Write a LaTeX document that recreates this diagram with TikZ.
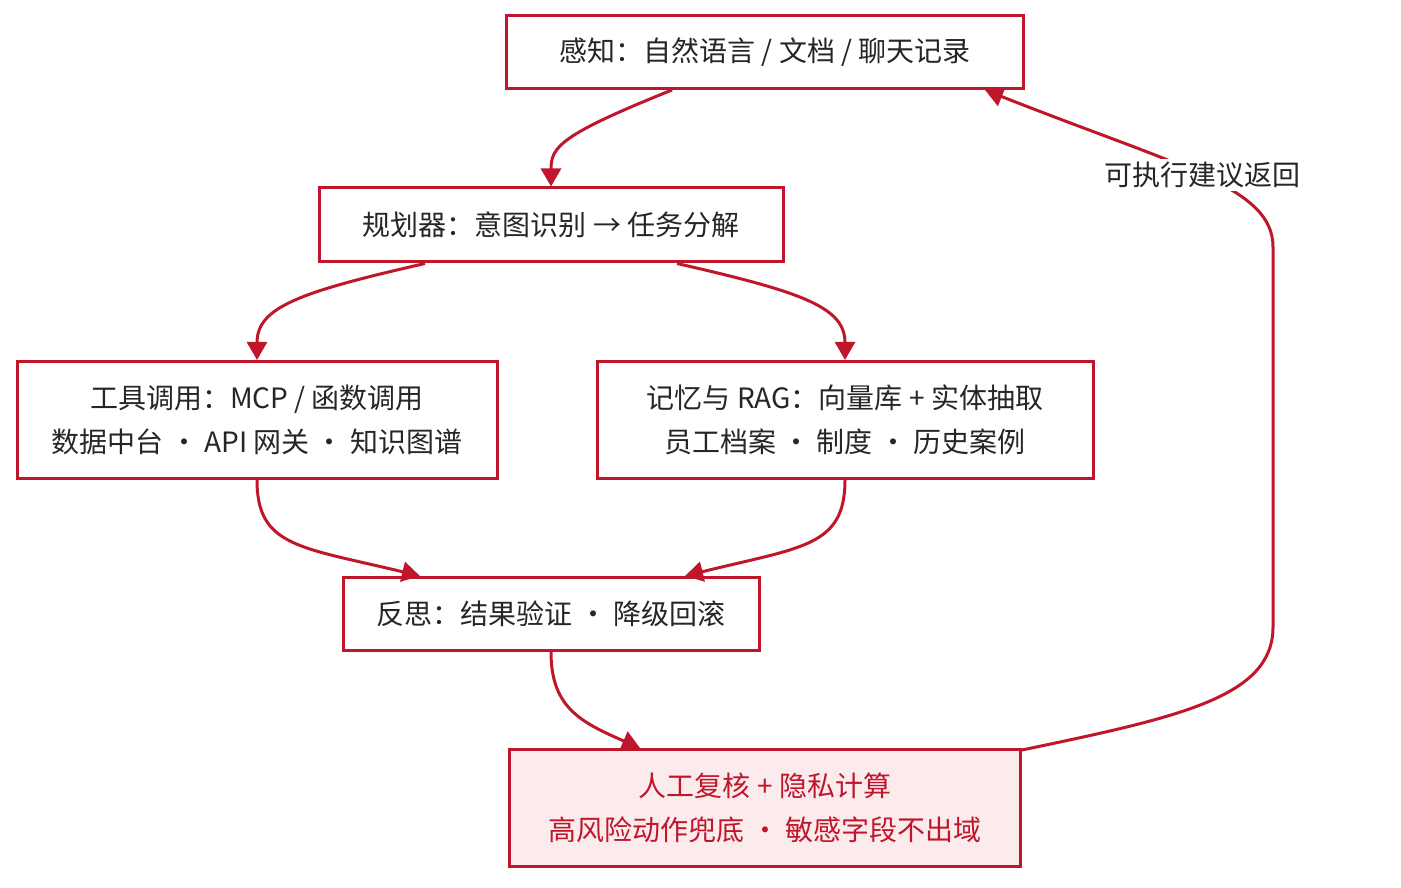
\documentclass[tikz,border=0pt]{standalone}
\usepackage{fontspec}
\setmainfont{Noto Sans CJK SC}
\usetikzlibrary{arrows.meta}
\definecolor{cred}{HTML}{C0162C}
\definecolor{cpink}{HTML}{FCEBEC}
\begin{document}
\begin{tikzpicture}[x=1pt,y=1pt,
  box/.style={draw=cred,line width=3pt,fill=white,align=center,inner sep=0pt,font=\fontsize{28}{44}\selectfont,text=black!85},
  hot/.style={box,fill=cpink,text=cred},
  arr/.style={draw=cred,line width=3pt,-{Triangle[length=18pt,width=20pt]}}]
\useasboundingbox (0,0) rectangle (1401,887);
\node[box,minimum width=517pt,minimum height=73pt] (perc) at (765,835) {感知：自然语言 / 文档 / 聊天记录};
\node[box,minimum width=464pt,minimum height=74pt] (plan) at (551,662) {规划器：意图识别 → 任务分解};
\node[box,minimum width=480pt,minimum height=117pt] (tool) at (257,467) {工具调用：MCP / 函数调用\\数据中台 ・ API 网关 ・ 知识图谱};
\node[box,minimum width=496pt,minimum height=117pt] (mem) at (845,467) {记忆与 RAG：向量库 + 实体抽取\\员工档案 ・ 制度 ・ 历史案例};
\node[box,minimum width=416pt,minimum height=73pt] (refl) at (551,273) {反思：结果验证 ・ 降级回滚};
\node[hot,minimum width=511pt,minimum height=117pt] (hum) at (765,79) {人工复核 + 隐私计算\\高风险动作兜底 ・ 敏感字段不出域};
\draw[arr] ([xshift=-93pt]perc.south) .. controls (560,752) and (551,740) .. (plan.north);
\draw[arr] ([xshift=-126pt]plan.south) .. controls (300,595) and (257,580) .. (tool.north);
\draw[arr] ([xshift=126pt]plan.south) .. controls (802,595) and (845,580) .. (mem.north);
\draw[arr] (tool.south) .. controls (257,340) and (300,340) .. ([xshift=-131pt]refl.north);
\draw[arr] (mem.south) .. controls (845,340) and (802,340) .. ([xshift=134pt]refl.north);
\draw[arr] (refl.south) .. controls (551,180) and (580,165) .. ([xshift=-125pt]hum.north);
\draw[arr] ([yshift=-2pt]hum.north east) .. controls (1180,170) and (1273,190) .. (1273,260) -- (1273,640) .. controls (1273,700) and (1180,720) .. ([xshift=220pt]perc.south)
  node[pos=0.5,fill=white,inner sep=3pt,text=black!85,font=\fontsize{28}{34}\selectfont] (lbl) at (1273,467) {可执行建议返回};
\end{tikzpicture}
\end{document}
